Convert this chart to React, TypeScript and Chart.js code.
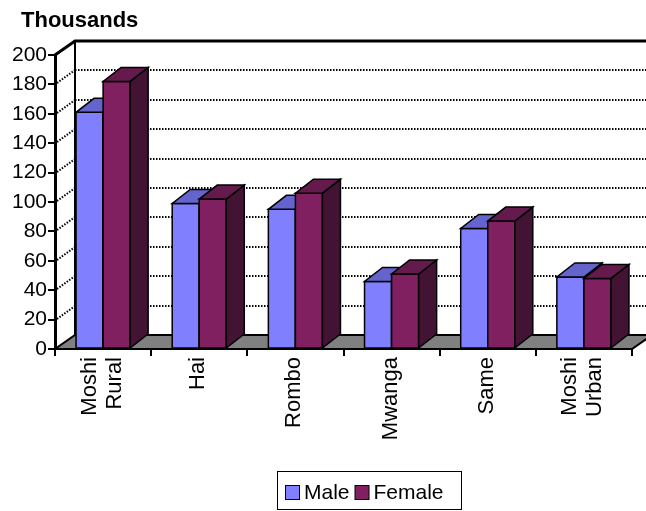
import { useEffect, useRef } from 'react';
import { Chart, registerables } from 'chart.js';

Chart.register(...registerables);

// Population by district, in thousands
const districts: (string | string[])[] = [['Moshi', 'Rural'], 'Hai', 'Rombo', 'Mwanga', 'Same', ['Moshi', 'Urban']];
const maleThousands = [161, 99, 95, 46, 82, 49];
const femaleThousands = [182, 102, 106, 51, 87, 48];
const seriesNames = ['Male', 'Female'];
const axisMin = 0;
const axisMax = 200;
const axisStep = 20;
const unitTitle = 'Thousands';

const FONT = '"Liberation Sans", Arial, Helvetica, sans-serif';
const LABEL_SIZE = 22;
const LABEL_LINE = 25;
const TICK_LEN = 7;

// depth offsets of the pseudo-3D walls/floor and of the columns
const WALL = { dx: 20, dy: -14 };
const COL = { dx: 18, dy: -14 };

const faceColors = [
  { front: '#8080FF', top: '#6464CC', side: '#40408C' },
  { front: '#802060', top: '#651A4D', side: '#421333' },
];

const poly = (ctx: CanvasRenderingContext2D, pts: number[][], fill: string, stroke = '#000', lw = 1.5) => {
  ctx.beginPath();
  ctx.moveTo(pts[0][0], pts[0][1]);
  for (let i = 1; i < pts.length; i++) ctx.lineTo(pts[i][0], pts[i][1]);
  ctx.closePath();
  ctx.fillStyle = fill;
  ctx.fill();
  ctx.lineWidth = lw;
  ctx.strokeStyle = stroke;
  ctx.stroke();
};

const box3d = {
  id: 'box3d',
  beforeDraw(chart: any) {
    const { ctx, chartArea: a } = chart;
    const y = chart.scales.y;
    const W = chart.width;
    const { dx, dy } = WALL;
    ctx.save();
    ctx.lineJoin = 'miter';
    // dotted grid on the back wall and the side wall
    ctx.strokeStyle = '#000';
    ctx.lineWidth = 2;
    ctx.setLineDash([1.5, 1.5]);
    for (const t of y.ticks) {
      if (t.value <= axisMin || t.value >= axisMax) continue;
      const py = Math.round(y.getPixelForValue(t.value));
      ctx.beginPath();
      ctx.moveTo(a.left + dx, py + dy);
      ctx.lineTo(W, py + dy);
      ctx.stroke();
      ctx.beginPath();
      ctx.moveTo(a.left + 2, py - 1);
      ctx.lineTo(a.left + dx, py + dy);
      ctx.stroke();
    }
    ctx.setLineDash([]);
    // wall edges
    ctx.lineWidth = 3;
    ctx.beginPath();
    ctx.moveTo(a.left, a.top);
    ctx.lineTo(a.left + dx, a.top + dy);
    ctx.lineTo(W, a.top + dy);
    ctx.stroke();
    ctx.lineWidth = 2;
    ctx.beginPath();
    ctx.moveTo(a.left + dx, a.top + dy);
    ctx.lineTo(a.left + dx, a.bottom + dy);
    ctx.stroke();
    // floor
    poly(ctx, [
      [a.left, a.bottom],
      [a.right, a.bottom],
      [a.right + dx, a.bottom + dy],
      [a.left + dx, a.bottom + dy],
    ], '#808080', '#000', 2);
    ctx.restore();
  },
  afterDatasetsDraw(chart: any) {
    const { ctx } = chart;
    const metas = chart.data.datasets.map((_: any, i: number) => chart.getDatasetMeta(i));
    const { dx, dy } = COL;
    ctx.save();
    ctx.lineJoin = 'miter';
    for (let i = 0; i < districts.length; i++) {
      metas.forEach((m: any, d: number) => {
        const el = m.data[i];
        if (!el) return;
        const { x, y, base, width } = el.getProps(['x', 'y', 'base', 'width'], true);
        const l = x - width / 2;
        const r = x + width / 2;
        const c = faceColors[d];
        poly(ctx, [[l, y], [r, y], [r, base], [l, base]], c.front);
        poly(ctx, [[r, y], [r + dx, y + dy], [r + dx, base + dy], [r, base]], c.side);
        poly(ctx, [[l, y], [r, y], [r + dx, y + dy], [l + dx, y + dy]], c.top);
      });
    }
    ctx.restore();
  },
  afterDraw(chart: any) {
    const { ctx, chartArea: a } = chart;
    const xs = chart.scales.x;
    ctx.save();
    // category labels, rotated to read upwards, lines centred on the category
    ctx.fillStyle = '#000';
    ctx.font = `${LABEL_SIZE}px ${FONT}`;
    ctx.textAlign = 'right';
    ctx.textBaseline = 'middle';
    (chart.data.labels as (string | string[])[]).forEach((lbl, i) => {
      const lines = Array.isArray(lbl) ? lbl : [lbl];
      const px = xs.getPixelForTick(i);
      lines.forEach((line, j) => {
        const off = (j - (lines.length - 1) / 2) * LABEL_LINE;
        ctx.save();
        ctx.translate(px + off - 1, a.bottom + TICK_LEN + 1);
        ctx.rotate(-Math.PI / 2);
        ctx.fillText(line, 0, 0);
        ctx.restore();
      });
    });
    // unit title
    ctx.font = `bold 22px ${FONT}`;
    ctx.textBaseline = 'alphabetic';
    ctx.textAlign = 'left';
    ctx.fillText(unitTitle, 21, 27);
    // legend
    ctx.lineWidth = 1;
    ctx.strokeStyle = '#000';
    ctx.fillStyle = '#fff';
    ctx.fillRect(277, 471, 184, 38);
    ctx.strokeRect(277.5, 471.5, 184, 38);
    ctx.font = `21px ${FONT}`;
    ctx.textBaseline = 'middle';
    let lx = 285;
    const ly = 492;
    chart.data.datasets.forEach((ds: any, d: number) => {
      ctx.fillStyle = faceColors[d].front;
      ctx.fillRect(lx + 0.5, ly - 7 + 0.5, 14, 14);
      ctx.strokeRect(lx + 0.5, ly - 7 + 0.5, 14, 14);
      ctx.fillStyle = '#000';
      ctx.fillText(ds.label, lx + 19, ly + 1);
      lx += 19 + ctx.measureText(ds.label).width + 5;
    });
    ctx.restore();
  },
};

export default function App() {
  const ref = useRef<HTMLCanvasElement>(null);
  useEffect(() => {
    if (!ref.current) return;
    const chart = new Chart(ref.current, {
      type: 'bar',
      data: {
        labels: districts,
        datasets: [
          { label: seriesNames[0], data: maleThousands, backgroundColor: faceColors[0].front, borderColor: '#000', borderWidth: 1.5 },
          { label: seriesNames[1], data: femaleThousands, backgroundColor: faceColors[1].front, borderColor: '#000', borderWidth: 1.5 },
        ],
      },
      options: {
        responsive: false,
        animation: false,
        devicePixelRatio: 1,
        layout: { padding: { top: 55, right: 14, left: 0, bottom: 0 } },
        datasets: { bar: { categoryPercentage: 0.5625, barPercentage: 1 } },
        plugins: { legend: { display: false }, title: { display: false }, tooltip: { enabled: false } },
        scales: {
          x: {
            afterFit: (s: any) => { s.height = 162; },
            grid: { offset: true, drawOnChartArea: false, drawTicks: true, tickLength: TICK_LEN, color: '#000', lineWidth: 2 },
            border: { display: true, color: '#000', width: 2 },
            ticks: { display: false, autoSkip: false },
          },
          y: {
            min: axisMin,
            max: axisMax,
            afterFit: (s: any) => { s.width = 55; },
            grid: { drawOnChartArea: false, drawTicks: true, tickLength: TICK_LEN, color: '#000', lineWidth: 2 },
            border: { display: true, color: '#000', width: 3 },
            ticks: { stepSize: axisStep, padding: 1, color: '#000', font: { family: FONT, size: 21 } },
          },
        },
      },
      plugins: [box3d],
    });
    return () => chart.destroy();
  }, []);
  return (
    <div style={{ position: 'absolute', left: 0, top: 0, width: 646, height: 511, background: '#fff' }}>
      <canvas ref={ref} width={646} height={511} style={{ display: 'block', width: 646, height: 511 }} />
    </div>
  );
}
